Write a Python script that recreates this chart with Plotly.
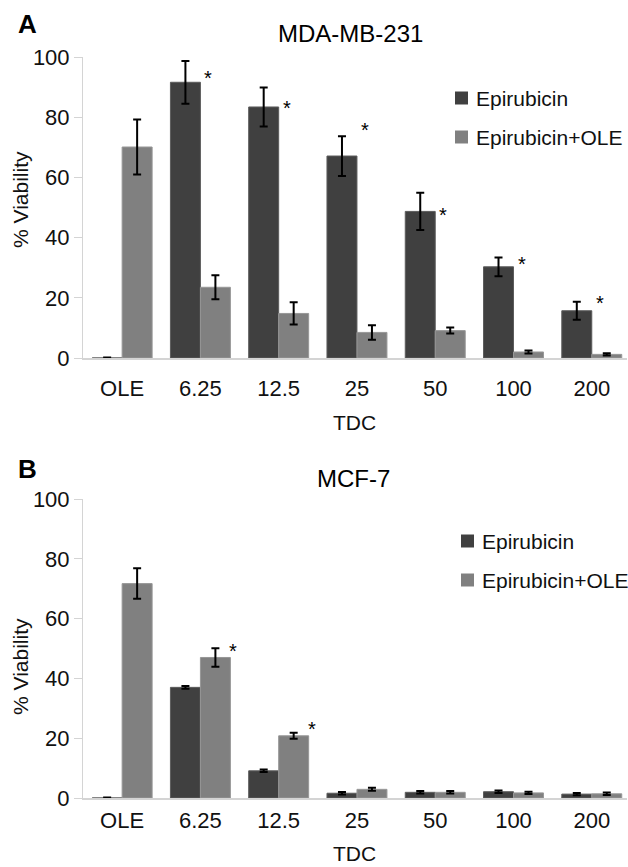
import plotly.graph_objects as go

categories = ["OLE", "6.25", "12.5", "25", "50", "100", "200"]
series_names = ["Epirubicin", "Epirubicin+OLE"]
x_title = "TDC"
y_title = "% Viability"

# Panel A: MDA-MB-231
a_epi = [0, 91.6, 83.4, 67.1, 48.7, 30.3, 15.7]
a_epi_err = [0.2, 7.1, 6.5, 6.6, 6.2, 3.1, 3.0]
a_ole = [70.1, 23.5, 14.8, 8.5, 9.1, 2.0, 1.2]
a_ole_err = [9.1, 4.0, 3.7, 2.4, 1.0, 0.5, 0.4]
a_sig_cats = ["6.25", "12.5", "25", "50", "100", "200"]
a_sig_y = [95.0, 85.0, 77.7, 49.5, 33.2, 20.3]

# Panel B: MCF-7
b_epi = [0, 37.0, 9.1, 1.6, 1.9, 2.1, 1.3]
b_epi_err = [0.2, 0.5, 0.4, 0.4, 0.4, 0.4, 0.4]
b_ole = [71.7, 47.0, 20.8, 2.9, 1.9, 1.7, 1.4]
b_ole_err = [5.1, 3.1, 1.0, 0.5, 0.4, 0.4, 0.4]
b_sig_cats = ["6.25", "12.5"]
b_sig_y = [51.2, 25.1]

y_ticks = [0, 20, 40, 60, 80, 100]

DARK = "#404040"
LIGHT = "#808080"
FONT = "Liberation Sans, Arial, sans-serif"
W, H = 628, 867

fig = go.Figure()

def add_panel(epi, epi_err, ole, ole_err, xa, ya):
    for name, vals, errs, col, edge in [
        (series_names[0], epi, epi_err, DARK, "#5c5c5c"),
        (series_names[1], ole, ole_err, LIGHT, "#979797"),
    ]:
        fig.add_trace(go.Bar(
            x=categories, y=vals, name=name, xaxis=xa, yaxis=ya,
            marker=dict(color=col, line=dict(color=edge, width=1)),
            error_y=dict(type="data", array=errs, color="black",
                         thickness=2, width=4),
            showlegend=False,
        ))

add_panel(a_epi, a_epi_err, a_ole, a_ole_err, "x", "y")
add_panel(b_epi, b_epi_err, b_ole, b_ole_err, "x2", "y2")

def px(x):
    return x / W

def py(y):
    return 1 - y / H

xdom = [px(83), px(627)]
common_x = dict(
    type="category", range=[-0.5, 6.45], domain=xdom, automargin=False,
    showline=True, linecolor="#d4d4d4", linewidth=1.5,
    ticks="", showgrid=False, zeroline=False,
    tickfont=dict(size=22, color="#111", family=FONT),
)
common_y = dict(
    range=[0, 100], tickvals=y_ticks, showline=True, linecolor="#d4d4d4",
    linewidth=1, ticks="outside", ticklen=8, tickcolor="#d4d4d4",
    showgrid=False, zeroline=False, automargin=False,
    tickfont=dict(size=22, color="#111", family=FONT),
)

fig.update_layout(
    width=W, height=H, autosize=False,
    margin=dict(l=0, r=0, t=0, b=0, pad=0),
    paper_bgcolor="white", plot_bgcolor="white",
    barmode="group", bargap=0.234, bargroupgap=0,
    font=dict(family=FONT, color="#111"),
    xaxis=dict(**common_x, anchor="y", ticklabelstandoff=10),
    yaxis=dict(**common_y, domain=[py(358), py(57)], anchor="x"),
    xaxis2=dict(**common_x, anchor="y2", ticklabelstandoff=2),
    yaxis2=dict(**common_y, domain=[py(798), py(499)], anchor="x2"),
)

annotations = []

def paper_text(x, y, text, size, xanchor="center", angle=0, color="black"):
    annotations.append(dict(x=px(x), y=py(y), xref="paper", yref="paper",
                            text=text, showarrow=False, textangle=angle,
                            xanchor=xanchor, yanchor="middle",
                            font=dict(size=size, family=FONT, color=color)))

# panel letters and titles
paper_text(27, 24, "<b>A</b>", 26)
paper_text(27, 469, "<b>B</b>", 26)
paper_text(350, 34, "MDA-MB-231", 24)
paper_text(353, 478, "MCF-7", 24)

# axis titles
paper_text(354, 422, x_title, 21, color="#111")
paper_text(354, 853, x_title, 21, color="#111")
paper_text(20, 200, y_title, 21, angle=-90, color="#111")
paper_text(20, 667, y_title, 21, angle=-90, color="#111")

# significance asterisks (category index positions)
for c, yv in zip(a_sig_cats, a_sig_y):
    annotations.append(dict(x=categories.index(c), y=yv, xref="x", yref="y",
                            text="*", showarrow=False, xshift=8, yshift=-6,
                            xanchor="center", yanchor="middle",
                            font=dict(size=20, family=FONT, color="black")))
for c, yv in zip(b_sig_cats, b_sig_y):
    annotations.append(dict(x=categories.index(c), y=yv, xref="x2", yref="y2",
                            text="*", showarrow=False, xshift=33, yshift=-6,
                            xanchor="center", yanchor="middle",
                            font=dict(size=20, family=FONT, color="black")))

# manual legends
shapes = []
for (sx, rows) in [(455, [98, 137]), (461, [541, 580])]:
    for name, col, ry in zip(series_names, [DARK, LIGHT], rows):
        shapes.append(dict(type="rect", xref="paper", yref="paper",
                           x0=px(sx), x1=px(sx + 13),
                           y0=py(ry + 6.5), y1=py(ry - 6.5),
                           fillcolor=col, line=dict(width=0)))
        paper_text(sx + 19, ry, name, 21, xanchor="left", color="#111")

fig.update_layout(annotations=annotations, shapes=shapes)

fig.write_html("out.html",
               config={"displayModeBar": False},
               post_script="document.body.style.margin='0';")
